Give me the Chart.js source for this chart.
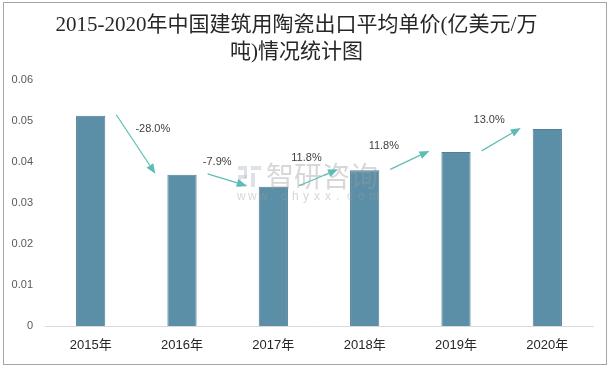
<!DOCTYPE html>
<html>
<head>
<meta charset="utf-8">
<script src="https://cdn.jsdelivr.net/npm/chart.js@4"></script>
<style>
  html, body { margin: 0; padding: 0; background: #fff; }
  #wrap { position: relative; width: 613px; height: 368px; }
  #frame { position: absolute; left: 3px; top: 2px; width: 602px; height: 361px; border: 1px solid #a6a6a6; pointer-events: none; }
</style>
</head>
<body>
<div id="wrap">
  <canvas id="chart" width="613" height="368"></canvas>
  <div id="frame"></div>
</div>
<script>
const years = ['2015年', '2016年', '2017年', '2018年', '2019年', '2020年'];
const unitPrice = [0.0512, 0.0368, 0.0339, 0.0379, 0.0424, 0.0480];
const growthLabels = ['-28.0%', '-7.9%', '11.8%', '11.8%', '13.0%'];
const yTicks = [0, 0.01, 0.02, 0.03, 0.04, 0.05, 0.06];

document.addEventListener('DOMContentLoaded', function () {
  const ctx = document.getElementById('chart').getContext('2d');

  // arrows between bars with growth labels, plus the watermark
  const arrowPlugin = {
    id: 'growthArrows',
    afterDatasetsDraw(chart) {
      const c = chart.ctx;
      const bars = chart.getDatasetMeta(0).data;
      // label offset from arrow midpoint (placed by hand in the original)
      const labelOffsets = [[17, -15], [-10, -18], [-12, -20], [-26, -14], [-12, -19]];

      // watermark
      c.save();
      c.globalAlpha = 0.4;
      c.fillStyle = '#a9b6c6';
      c.fillRect(238, 166, 9, 4);
      c.fillRect(244, 170, 3, 8);
      c.fillRect(238, 175, 9, 4);
      c.fillRect(238, 179, 3, 8);
      c.fillRect(238, 184, 9, 3);
      c.fillRect(251, 166, 10, 4);
      c.fillRect(251, 173, 4, 14);
      c.fillStyle = '#9a9a9a';
      c.font = '28px "Noto Sans CJK SC"';
      c.textBaseline = 'middle';
      c.textAlign = 'left';
      c.fillText('智研咨询', 266, 176);
      c.font = '12px "Liberation Sans"';
      const site = 'www.chyxx.com';
      for (let k = 0; k < site.length; k++) {
        c.fillText(site[k], 237 + k * 11, 197);
      }
      c.restore();

      c.save();
      c.strokeStyle = '#5dbdb6';
      c.fillStyle = '#5dbdb6';
      c.lineWidth = 1.2;
      for (let i = 0; i < bars.length - 1; i++) {
        const a = bars[i], b = bars[i + 1];
        const x1 = a.x + a.width / 2 + 11, y1 = a.y - 1;
        const x2 = b.x - b.width / 2 - 12, y2 = b.y - 1;
        const ang = Math.atan2(y2 - y1, x2 - x1);
        const head = 10, hw = 4;
        const bx = x2 - head * Math.cos(ang), by = y2 - head * Math.sin(ang);
        c.beginPath();
        c.moveTo(x1, y1);
        c.lineTo(bx, by);
        c.stroke();
        c.beginPath();
        c.moveTo(x2, y2);
        c.lineTo(bx + hw * Math.sin(ang), by - hw * Math.cos(ang));
        c.lineTo(bx - hw * Math.sin(ang), by + hw * Math.cos(ang));
        c.closePath();
        c.fill();

        const mx = (x1 + x2) / 2 + labelOffsets[i][0];
        const my = (y1 + y2) / 2 + labelOffsets[i][1];
        c.save();
        c.fillStyle = '#404040';
        c.font = '11px "Liberation Sans", "Noto Sans CJK SC"';
        c.textAlign = 'center';
        c.textBaseline = 'middle';
        c.fillText(growthLabels[i], mx, my);
        c.restore();
      }
      c.restore();
    }
  };

  new Chart(ctx, {
    type: 'bar',
    data: {
      labels: years,
      datasets: [{
        data: unitPrice,
        backgroundColor: '#5b8fa7',
        borderColor: '#527f96',
        borderWidth: 1,
        barPercentage: 0.32,
        categoryPercentage: 1
      }]
    },
    options: {
      responsive: false,
      animation: false,
      events: [],
      layout: { padding: { left: 0, right: 20, top: 0, bottom: 0 } },
      plugins: {
        legend: { display: false },
        tooltip: { enabled: false },
        title: {
          display: true,
          text: ['2015-2020年中国建筑用陶瓷出口平均单价(亿美元/万', '吨)情况统计图'],
          color: '#262626',
          font: { family: '"Liberation Serif", "Noto Sans CJK SC"', size: 21, weight: 'normal', lineHeight: 1.3 },
          padding: { top: 12, bottom: 13 }
        }
      },
      scales: {
        x: {
          grid: { display: false, drawTicks: false },
          border: { display: true, color: '#d9d9d9', width: 1 },
          ticks: {
            color: '#262626',
            padding: 12,
            font: { family: '"Liberation Sans", "Noto Sans CJK SC"', size: 13 }
          },
          afterFit(scale) { scale.height = 42; }
        },
        y: {
          min: 0,
          max: 0.06,
          grid: { display: false, drawTicks: false },
          border: { display: false },
          afterBuildTicks(scale) { scale.ticks = yTicks.map(v => ({ value: v })); },
          ticks: {
            color: '#595959',
            padding: 12,
            font: { family: '"Liberation Sans"', size: 11 },
            callback: v => (v === 0 ? '0' : v.toFixed(2))
          },
          afterFit(scale) { scale.width = 45; }
        }
      }
    },
    plugins: [arrowPlugin]
  });
});
</script>
</body>
</html>
